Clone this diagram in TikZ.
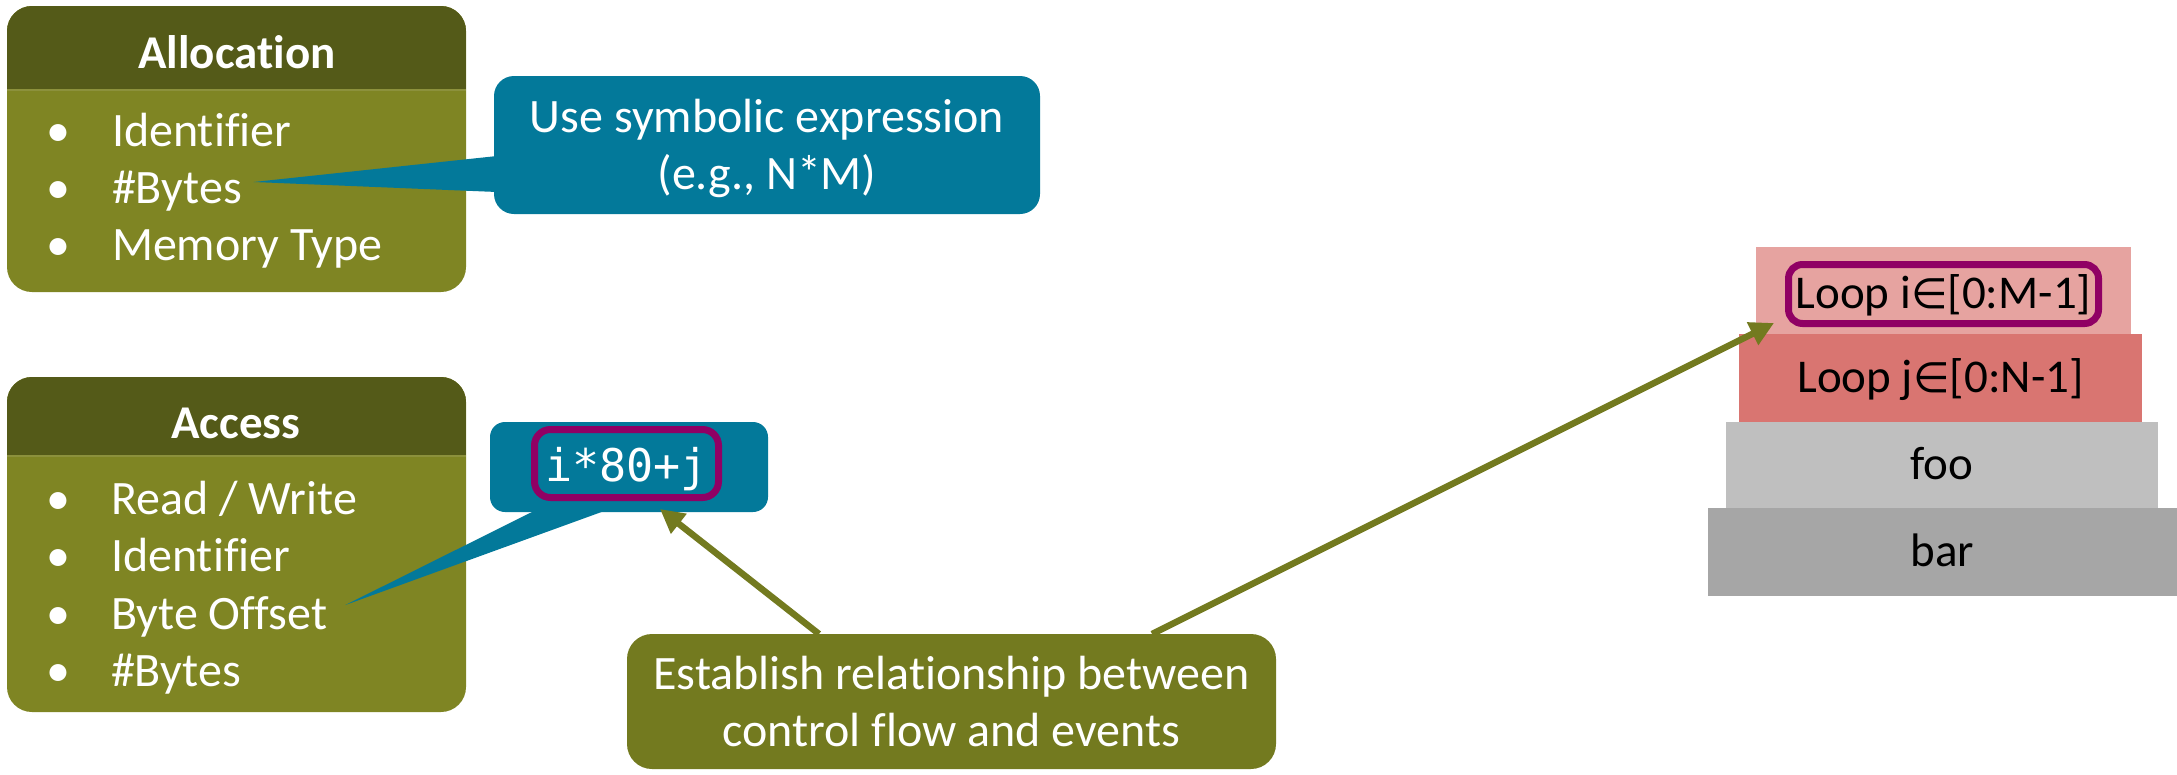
\documentclass[tikz,border=0pt]{standalone}
\usepackage{fontspec}
\setmainfont{Carlito}[Ligatures=NoCommon]
\newfontfamily\codefont{DejaVu Sans Mono}
\newfontfamily\symfont{DejaVu Sans}
\usetikzlibrary{arrows.meta,calc}

\definecolor{hdrolive}{HTML}{545A18}
\definecolor{bodyolive}{HTML}{7F8523}
\definecolor{sepolive}{HTML}{8C913C}
\definecolor{noteolive}{HTML}{737A1F}
\definecolor{tealbox}{HTML}{03799A}
\definecolor{hilite}{HTML}{900064}
\definecolor{loopout}{HTML}{E6A3A0}
\definecolor{loopin}{HTML}{D97571}
\definecolor{fooc}{HTML}{BFBFBF}
\definecolor{barc}{HTML}{A6A6A6}

\newcommand{\elem}{{\symfont\fontsize{42}{50}\selectfont ∈}}

\begin{document}
\begin{tikzpicture}[x=1pt,y=-1pt,
  every node/.style={font=\fontsize{48}{57}\selectfont, inner sep=0pt, outer sep=0pt},
  card/.style={fill=bodyolive, rounded corners=25pt, minimum width=459pt},
  cardtitle/.style={anchor=base, text=white, font=\bfseries\fontsize{47}{57}\selectfont},
  bulletmark/.style={anchor=base, text=white},
  itemtext/.style={anchor=base west, text=white},
  callout/.style={fill=tealbox, rounded corners=20pt, text=white, align=center},
  notebox/.style={fill=noteolive, rounded corners=25pt, text=white, align=center},
  hilitebox/.style={draw=hilite, line width=7pt},
  layer/.style={minimum height=88pt, text=black, text height=35pt, text depth=6pt,
                font=\fontsize{47}{57}\selectfont},
  link/.style={draw=noteolive, line width=6.5pt, -{Triangle[length=24pt,width=24pt]}}
]
\useasboundingbox (0,0) rectangle (2177,774);

% ---------- Allocation card ----------
\node[card, minimum height=286pt] (alloc) at (236.5,149) {};
\begin{scope}
  \clip[rounded corners=25pt] (alloc.north west) rectangle (alloc.south east);
  \fill[hdrolive] (alloc.north west) rectangle ($(alloc.north east)+(0,84)$);
\end{scope}
\draw[sepolive, line width=1.2pt] ($(alloc.north west)+(0,84)$) -- ($(alloc.north east)+(0,84)$);
\node[cardtitle] (alloctitle) at (237,68) {Allocation};
\foreach \txt [count=\i] in {Identifier,\#Bytes,Memory Type} {
  \node[bulletmark] (allocb-\i) at (58,{146+(\i-1)*57}) {\textbullet};
  \node[itemtext] (alloc-\i) at (112,{146+(\i-1)*57}) {\txt};
}

% ---------- Access card ----------
\node[card, minimum height=335pt] (access) at (236.5,544.5) {};
\begin{scope}
  \clip[rounded corners=25pt] (access.north west) rectangle (access.south east);
  \fill[hdrolive] (access.north west) rectangle ($(access.north east)+(0,79)$);
\end{scope}
\draw[sepolive, line width=1.2pt] ($(access.north west)+(0,79)$) -- ($(access.north east)+(0,79)$);
\node[cardtitle] (accesstitle) at (236,438) {Access};
\foreach \txt [count=\i] in {Read / Write,Identifier,Byte Offset,\#Bytes} {
  \node[bulletmark] (accessb-\i) at (58,{514+(\i-1)*57.5}) {\textbullet};
  \node[itemtext] (access-\i) at (111,{514+(\i-1)*57.5}) {\txt};
}

% ---------- callout on #Bytes ----------
\node[callout, minimum width=546pt, minimum height=138pt, text depth=1pt] (symb) at (767,145)
  {Use symbolic expression\\(e.g., N*M)};
\coordinate (bytestip) at ($(alloc-2.base east)+(12,-21)$);
\fill[tealbox] (bytestip) -- ($(symb.west)+(3,11)$) -- ($(symb.west)+(3,47)$) -- cycle;

% ---------- callout on Byte Offset ----------
\node[callout, rounded corners=15pt, minimum width=278pt, minimum height=90pt] (off) at (629,467) {};
\node[hilitebox, rounded corners=16pt, minimum width=184pt, minimum height=68pt,
      text=white, text height=35pt, text depth=0pt,
      font=\codefont\fontsize{45}{50}\selectfont] (offexpr) at (626.5,463.5) {i*80+j};
\coordinate (offsettip) at ($(access-3.base east)+(18,-24)$);
\fill[tealbox] (offsettip) -- ($(off.south west)+(46,-2)$) -- ($(off.south west)+(117,-2)$) -- cycle;

% ---------- call stack ----------
\node[layer, fill=loopout, minimum width=375pt, minimum height=87pt] (loopi) at (1943.5,290.5) {};
\node[layer, fill=loopin, minimum width=403pt] (loopj) at (1940.5,378) {Loop j\elem[0:N-1]};
\node[layer, fill=fooc, minimum width=432pt, minimum height=86pt] (foo) at (1942,465) {foo};
\node[layer, fill=barc, minimum width=469pt] (bar) at (1942.5,552) {bar};
\node[hilitebox, rounded corners=14pt, minimum width=310pt, minimum height=59pt,
      text height=35pt, text depth=6pt, font=\fontsize{47}{57}\selectfont]
      (loopivar) at (1943.5,294) {Loop i\elem[0:M-1]};

% ---------- relationship note ----------
\node[notebox, minimum width=649pt, minimum height=135pt] (est) at (951.5,701.5)
  {Establish relationship between\\control flow and events};

\coordinate (estleft) at ($(est.north west)+(192,0)$);
\coordinate (estright) at ($(est.north west)+(525,0)$);
\coordinate (offhit) at ($(off.south west)+(170,-3)$);
\coordinate (loophit) at ($(loopi.south west)+(18,-11)$);
\draw[link] (estleft) -- (offhit);
\draw[link] (estright) -- (loophit);
\end{tikzpicture}
\end{document}
